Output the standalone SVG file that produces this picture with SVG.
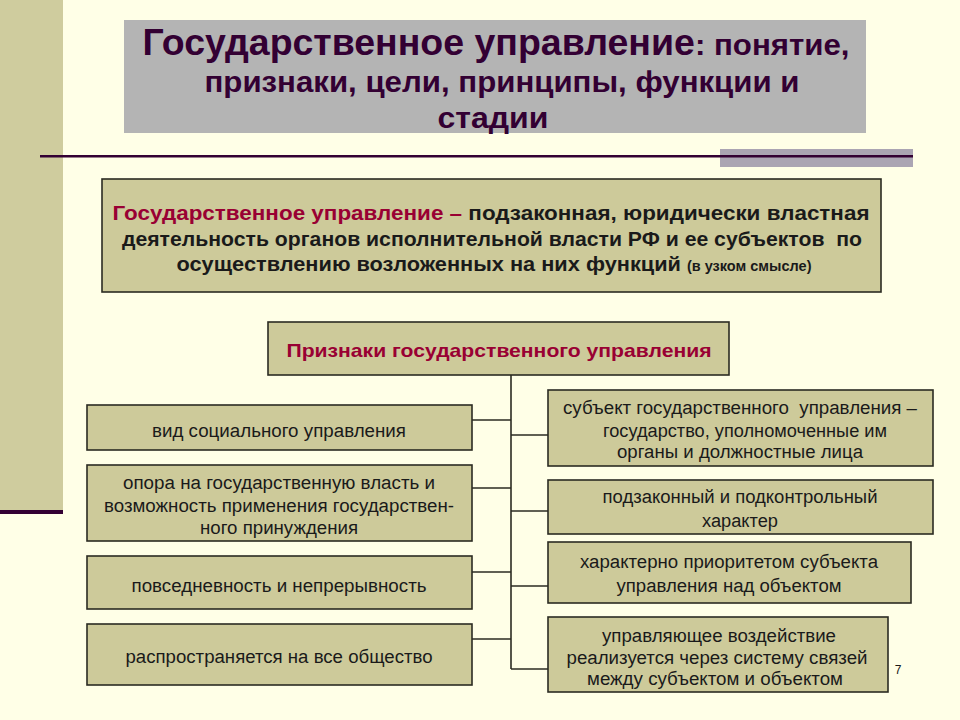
<svg xmlns="http://www.w3.org/2000/svg" width="960" height="720" viewBox="0 0 960 720">
<style>
.box{fill:#CDCA9A;stroke:#2b2b22;stroke-width:1.6}
.t{font-family:"Liberation Sans",Arial,sans-serif;font-size:18px;fill:#1a1a1a;text-anchor:middle}
.b{font-family:"Liberation Sans",Arial,sans-serif;font-weight:bold;text-anchor:middle}
.ttl{fill:#330033}
.red{fill:#990033}
.dk{fill:#1a1a1a}
.conn line{stroke:#2b2b22;stroke-width:1.6}
</style>
<rect x="0" y="0" width="960" height="720" fill="#FFFFE7"/>
<g id="decor">
<rect x="0" y="0" width="63" height="510" fill="#CFCC9E"/>
<rect x="0" y="510" width="63" height="4" fill="#330033"/>
<rect x="720" y="149" width="193" height="18" fill="#ABA5B3"/>
<rect x="40" y="155" width="873" height="2.5" fill="#330033"/>
</g>
<g id="title">
<rect x="124" y="20" width="742" height="113" fill="#B4B4B4"/>
<text class="b ttl" x="496" y="55" textLength="707" lengthAdjust="spacingAndGlyphs"><tspan font-size="36">Государственное управление</tspan><tspan font-size="30">: понятие,</tspan></text>
<text class="b ttl" x="502" y="92" font-size="30" textLength="595" lengthAdjust="spacingAndGlyphs">признаки, цели, принципы, функции и</text>
<text class="b ttl" x="493" y="128" font-size="30" textLength="111" lengthAdjust="spacingAndGlyphs">стадии</text>
</g>
<g id="definition">
<rect class="box" x="102" y="179" width="779" height="113"/>
<text class="b" x="491" y="220" font-size="21" textLength="757" lengthAdjust="spacingAndGlyphs"><tspan class="red">Государственное управление –</tspan><tspan class="dk"> подзаконная, юридически властная</tspan></text>
<text class="b dk" x="492" y="246" font-size="21" textLength="740" lengthAdjust="spacingAndGlyphs">деятельность органов исполнительной власти РФ и ее субъектов&#160; по</text>
<text class="b dk" x="494" y="271" textLength="635" lengthAdjust="spacingAndGlyphs"><tspan font-size="21">осуществлению возложенных на них функций </tspan><tspan font-size="14">(в узком смысле)</tspan></text>
</g>
<g class="conn" id="connectors">
<line x1="511" y1="375" x2="511" y2="669"/>
<line x1="472" y1="420" x2="511" y2="420"/>
<line x1="472" y1="488" x2="511" y2="488"/>
<line x1="472" y1="572" x2="511" y2="572"/>
<line x1="472" y1="639" x2="511" y2="639"/>
<line x1="511" y1="435" x2="548" y2="435"/>
<line x1="511" y1="511" x2="548" y2="511"/>
<line x1="511" y1="586" x2="548" y2="586"/>
<line x1="511" y1="669" x2="548" y2="669"/>
</g>
<g id="priznaki">
<rect class="box" x="268" y="322" width="461" height="53"/>
<text class="b red" x="499" y="357" font-size="19" textLength="425" lengthAdjust="spacingAndGlyphs">Признаки государственного управления</text>
</g>
<g id="L1">
<rect class="box" x="87" y="405" width="385" height="45"/>
<text class="t" x="279" y="437" textLength="254" lengthAdjust="spacingAndGlyphs">вид социального управления</text>
</g>
<g id="L2">
<rect class="box" x="87" y="465" width="385" height="76"/>
<text class="t" x="279" y="489" textLength="312" lengthAdjust="spacingAndGlyphs">опора на государственную власть и</text>
<text class="t" x="279" y="512" textLength="350" lengthAdjust="spacingAndGlyphs">возможность применения государствен-</text>
<text class="t" x="279" y="534" textLength="158" lengthAdjust="spacingAndGlyphs">ного принуждения</text>
</g>
<g id="L3">
<rect class="box" x="87" y="556" width="385" height="53"/>
<text class="t" x="279" y="592" textLength="295" lengthAdjust="spacingAndGlyphs">повседневность и непрерывность</text>
</g>
<g id="L4">
<rect class="box" x="87" y="624" width="385" height="61"/>
<text class="t" x="279" y="663" textLength="307" lengthAdjust="spacingAndGlyphs">распространяется на все общество</text>
</g>
<g id="R1">
<rect class="box" x="548" y="390" width="385" height="76"/>
<text class="t" x="740" y="414" textLength="354" lengthAdjust="spacingAndGlyphs">субъект государственного&#160; управления –</text>
<text class="t" x="745" y="437" textLength="284" lengthAdjust="spacingAndGlyphs">государство, уполномоченные им</text>
<text class="t" x="740" y="458" textLength="246" lengthAdjust="spacingAndGlyphs">органы и должностные лица</text>
</g>
<g id="R2">
<rect class="box" x="548" y="480" width="385" height="54"/>
<text class="t" x="740" y="503" textLength="275" lengthAdjust="spacingAndGlyphs">подзаконный и подконтрольный</text>
<text class="t" x="740" y="527" textLength="76" lengthAdjust="spacingAndGlyphs">характер</text>
</g>
<g id="R3">
<rect class="box" x="548" y="542" width="363" height="61"/>
<text class="t" x="729" y="568" textLength="298" lengthAdjust="spacingAndGlyphs">характерно приоритетом субъекта</text>
<text class="t" x="729" y="592" textLength="225" lengthAdjust="spacingAndGlyphs">управления над объектом</text>
</g>
<g id="R4">
<rect class="box" x="548" y="617" width="340" height="75"/>
<text class="t" x="719" y="642" textLength="234" lengthAdjust="spacingAndGlyphs">управляющее воздействие</text>
<text class="t" x="717" y="664" textLength="301" lengthAdjust="spacingAndGlyphs">реализуется через систему связей</text>
<text class="t" x="715" y="685" textLength="256" lengthAdjust="spacingAndGlyphs">между субъектом и объектом</text>
</g>
<text x="898" y="674" font-family="Liberation Sans,Arial,sans-serif" font-size="12" fill="#1a1a1a" text-anchor="middle">7</text>
</svg>
